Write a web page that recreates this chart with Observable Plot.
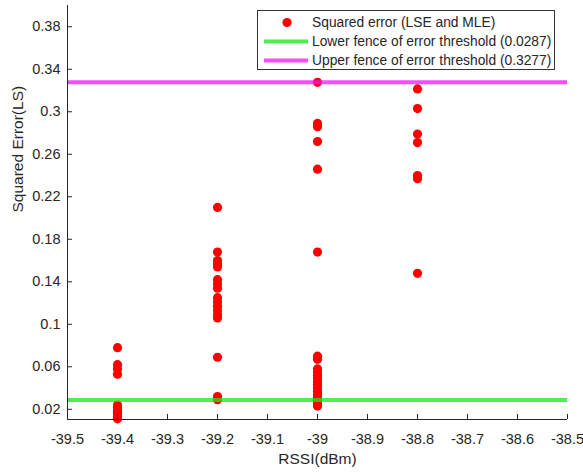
<!DOCTYPE html>
<html>
<head>
<meta charset="utf-8">
<script src="https://cdn.jsdelivr.net/npm/d3@7"></script>
<script src="https://cdn.jsdelivr.net/npm/@observablehq/plot@0.6"></script>
<style>
  html, body { margin: 0; padding: 0; background: #fff; }
  #wrap { position: relative; width: 583px; height: 472px; font-family: "Liberation Sans", Arial, sans-serif; color: #262626; }
  #chart svg g[aria-label="x-axis tick label"],
  #chart svg g[aria-label="y-axis tick label"] { font-size: 14.5px; }
  #legend {
    position: absolute; left: 257px; top: 10px; width: 298px; height: 60px;
    border: 1px solid #333; background: #fff; font-size: 13.8px; box-sizing: border-box;
  }
  .row { position: absolute; left: 0; height: 19px; line-height: 19px; white-space: nowrap; }
  .row .sym { position: absolute; left: 5px; width: 45px; height: 19px; }
  .row .lbl { position: absolute; left: 54px; }
</style>
</head>
<body>
<div id="wrap">
  <div id="chart"></div>
  <div id="legend"></div>
</div>
<script>
// RSSI levels (dBm) and squared error of the LSE/MLE estimates at each level
const rssiA = -39.4;
const errA = [0.078, 0.062, 0.058, 0.053, 0.024, 0.022, 0.019, 0.017, 0.015, 0.013, 0.011];
const rssiB = -39.2;
const errB = [0.210, 0.168, 0.160, 0.157, 0.154, 0.142, 0.138, 0.134, 0.125, 0.121, 0.117, 0.113, 0.109, 0.106, 0.069, 0.032, 0.029];
const rssiC = -39.0;
const errC = [0.3277, 0.289, 0.286, 0.272, 0.246, 0.168, 0.070, 0.067, 0.058, 0.055, 0.052, 0.049, 0.046, 0.043, 0.040, 0.037, 0.034, 0.031, 0.028, 0.025, 0.023];
const rssiD = -38.8;
const errD = [0.3215, 0.303, 0.279, 0.271, 0.240, 0.237, 0.148];

// error thresholds
const lowerFence = 0.0287;
const upperFence = 0.3277;

// axes
const xDomain = [-39.5, -38.5];
const yDomain = [0.0104, 0.4];
const xTicks = [-39.5, -39.4, -39.3, -39.2, -39.1, -39, -38.9, -38.8, -38.7, -38.6, -38.5];
const yTicks = [0.02, 0.06, 0.1, 0.14, 0.18, 0.22, 0.26, 0.3, 0.34, 0.38];
const xTitle = "RSSI(dBm)";
const yTitle = "Squared Error(LS)";

// legend entries
const legendLabels = [
  "Squared error (LSE and MLE)",
  "Lower fence of error threshold (0.0287)",
  "Upper fence of error threshold (0.3277)"
];

const dotColor = "#ff0000";
const lowColor = "#16e816";
const highColor = "#f216f2";
const ink = "#262626";

const points = [
  ...errA.map(e => ({rssi: rssiA, err: e})),
  ...errB.map(e => ({rssi: rssiB, err: e})),
  ...errC.map(e => ({rssi: rssiC, err: e})),
  ...errD.map(e => ({rssi: rssiD, err: e}))
];

const fmt = d => String(+d.toFixed(2));

const chart = Plot.plot({
  width: 583,
  height: 472,
  marginLeft: 67,
  marginRight: 16,
  marginTop: 5,
  marginBottom: 53,
  style: {fontFamily: "'Liberation Sans', Arial, sans-serif", fontSize: "14px", color: ink, background: "#fff"},
  x: {domain: xDomain, label: null},
  y: {domain: yDomain, label: null},
  marks: [
    Plot.dot(points, {x: "rssi", y: "err", r: 4.6, fill: dotColor, stroke: "none"}),
    Plot.ruleY([lowerFence], {stroke: lowColor, strokeWidth: 4, strokeOpacity: 0.75}),
    Plot.ruleY([upperFence], {stroke: highColor, strokeWidth: 4, strokeOpacity: 0.75}),
    Plot.ruleX([xDomain[0]], {stroke: ink, strokeWidth: 1}),
    Plot.ruleY([yDomain[0]], {stroke: ink, strokeWidth: 1}),
    Plot.axisX({ticks: xTicks, tickFormat: fmt, tickSize: -5, tickPadding: 19, stroke: ink, fill: ink, label: null}),
    Plot.axisY({ticks: yTicks, tickFormat: fmt, tickSize: -5, tickPadding: 12, stroke: ink, fill: ink, label: null}),
    Plot.text([xTitle], {frameAnchor: "bottom", dy: 44, fontSize: 15.5, fill: ink}),
    Plot.text([yTitle], {frameAnchor: "left", rotate: -90, dx: -49, fontSize: 15.5, fill: ink})
  ]
});
document.getElementById("chart").appendChild(chart);

// legend box
const legend = document.getElementById("legend");
const symbols = [
  `<svg width="45" height="19"><circle cx="24" cy="9.5" r="4.6" fill="${dotColor}"/></svg>`,
  `<svg width="45" height="19"><line x1="1" x2="45" y1="9.5" y2="9.5" stroke="${lowColor}" stroke-opacity="0.75" stroke-width="4"/></svg>`,
  `<svg width="45" height="19"><line x1="1" x2="45" y1="9.5" y2="9.5" stroke="${highColor}" stroke-opacity="0.75" stroke-width="4"/></svg>`
];
legendLabels.forEach((label, i) => {
  const row = document.createElement("div");
  row.className = "row";
  row.style.top = (2 + i * 19) + "px";
  row.innerHTML = `<span class="sym">${symbols[i]}</span><span class="lbl">${label}</span>`;
  legend.appendChild(row);
});
</script>
</body>
</html>
